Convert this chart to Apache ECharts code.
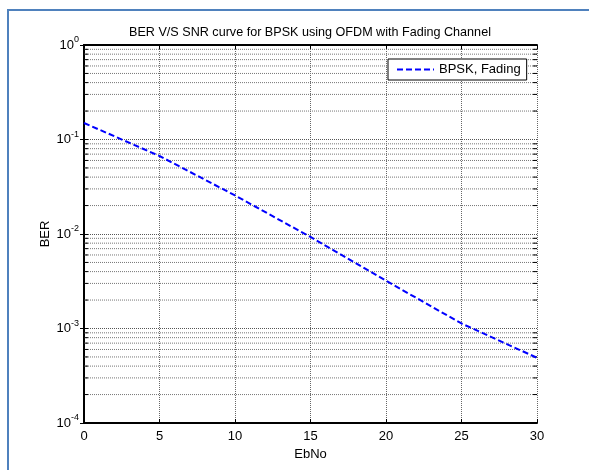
<!DOCTYPE html>
<html><head><meta charset="utf-8">
<script src="https://cdn.jsdelivr.net/npm/echarts@6/dist/echarts.min.js"></script>
<style>html,body{margin:0;padding:0;background:#fff}#c{width:589px;height:470px}</style>
</head><body><div id="c"></div>
<script>
const ebno = [0, 5, 10, 15, 20, 25, 30];
const ber = [0.1496, 0.0669, 0.0256, 0.0093, 0.0032, 0.00113, 0.00049];
const xTicks = [0, 5, 10, 15, 20, 25, 30];
const yDecades = [-4, -3, -2, -1, 0];
const minorVals = [];
for (let e = yDecades[0]; e < yDecades[yDecades.length - 1]; e++)
  for (let k = 2; k <= 9; k++) minorVals.push(k * Math.pow(10, e));

const FONT = 'Liberation Sans, Arial, sans-serif';
const chart = echarts.init(document.getElementById('c'));
const xMin = xTicks[0], xMax = xTicks[xTicks.length - 1];
const yMin = Math.pow(10, yDecades[0]), yMax = Math.pow(10, yDecades[yDecades.length - 1]);

const axisLine = { show: true, lineStyle: { color: '#000', width: 2 } };
const tick = { show: true, inside: true, length: 4, lineStyle: { color: '#000', width: 1 } };

chart.setOption({
  animation: false,
  backgroundColor: '#fff',
  graphic: [{ type: 'rect', shape: { x: 8, y: 10, width: 700, height: 600 },
    style: { fill: 'none', stroke: '#4f81bd', lineWidth: 2 }, z: 100 }],
  title: { text: 'BER V/S SNR curve for BPSK using OFDM with Fading Channel',
    left: 310, textAlign: 'center', top: 26, padding: 0,
    textStyle: { fontFamily: FONT, fontSize: 12.6, fontWeight: 'normal', color: '#000' } },
  legend: { data: ['BPSK, Fading'], left: 388, top: 59, orient: 'vertical',
    padding: [4, 6, 4, 8], itemWidth: 37, itemHeight: 14, itemGap: 0,
    borderColor: '#000', borderWidth: 1, backgroundColor: '#fff',
    itemStyle: { color: 'transparent', borderWidth: 0, opacity: 0 },
    textStyle: { fontFamily: FONT, fontSize: 13, color: '#000' } },
  grid: { left: 84, top: 45, right: 52, bottom: 47 },
  xAxis: [
    { type: 'value', min: xMin, max: xMax, interval: 5, position: 'bottom',
      axisLine, axisTick: tick,
      axisLabel: { color: '#000', fontFamily: FONT, fontSize: 13, margin: 7 },
      splitLine: { show: true, lineStyle: { type: 'dotted', color: '#666', width: 1 } },
      name: 'EbNo', nameLocation: 'middle', nameGap: 21,
      nameTextStyle: { color: '#000', fontFamily: FONT, fontSize: 13 } },
    { type: 'value', min: xMin, max: xMax, interval: 5, position: 'top',
      axisLine, axisTick: tick, axisLabel: { show: false }, splitLine: { show: false } }
  ],
  yAxis: [
    { type: 'log', logBase: 10, min: yMin, max: yMax, interval: 1, position: 'left',
      axisLine, axisTick: tick,
      axisLabel: { margin: 5, fontFamily: FONT, color: '#000',
        formatter: v => '{b|10}{s|' + Math.round(Math.log10(v)) + '}',
        rich: { b: { fontSize: 13, fontFamily: FONT, color: '#000' },
                s: { fontSize: 9, fontFamily: FONT, color: '#000', padding: [0, 0, 10, 0] } } },
      splitLine: { show: true, lineStyle: { type: 'dotted', color: '#555', width: 1 } },
      name: 'BER', nameLocation: 'middle', nameGap: 32, nameMoveOverlap: false,
      nameTextStyle: { color: '#000', fontFamily: FONT, fontSize: 13 } },
    { type: 'log', logBase: 10, min: yMin, max: yMax, interval: 1, position: 'right',
      axisLine, axisTick: tick, axisLabel: { show: false }, splitLine: { show: false } }
  ],
  series: [
    { type: 'custom', name: 'minor', xAxisIndex: 0, yAxisIndex: 0, silent: true, z: 1,
      data: minorVals.map(v => [xMin, v]),
      renderItem: (params, api) => {
        const v = api.value(1);
        const p0 = api.coord([xMin, v]);
        const p1 = api.coord([xMax, v]);
        return { type: 'group', children: [
          { type: 'line', shape: { x1: p0[0], y1: p0[1], x2: p1[0], y2: p1[1] },
            style: { stroke: '#777', lineWidth: 1, lineDash: [1, 1] } },
          { type: 'line', shape: { x1: p0[0], y1: p0[1], x2: p0[0] + 4, y2: p0[1] },
            style: { stroke: '#000', lineWidth: 1 } },
          { type: 'line', shape: { x1: p1[0] - 4, y1: p1[1], x2: p1[0], y2: p1[1] },
            style: { stroke: '#000', lineWidth: 1 } }
        ] };
      } },
    { type: 'line', name: 'BPSK, Fading', xAxisIndex: 0, yAxisIndex: 0, z: 5,
      data: ebno.map((x, i) => [x, ber[i]]), symbol: 'none',
      lineStyle: { color: '#0000ff', width: 2, type: [6, 3] },
      itemStyle: { color: '#0000ff' } }
  ]
});
</script></body></html>
